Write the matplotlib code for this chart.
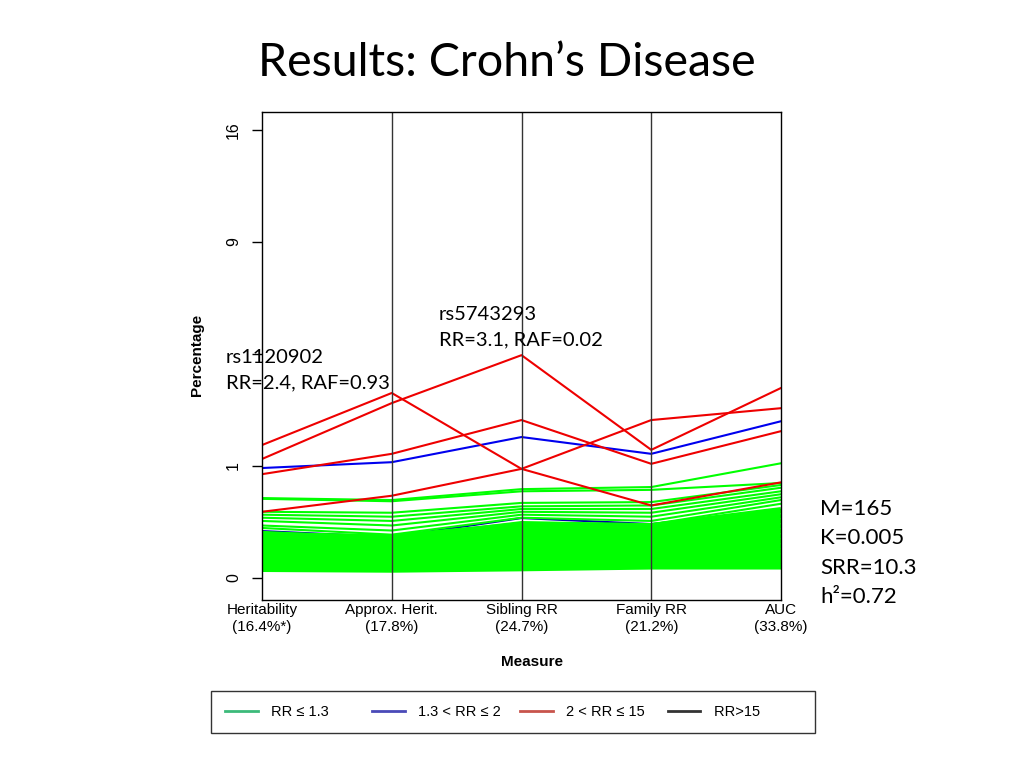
import numpy as np
from matplotlib import pyplot as plt
from matplotlib.lines import Line2D

measures = ["Heritability\n(16.4%*)", "Approx. Herit.\n(17.8%)", "Sibling RR\n(24.7%)",
            "Family RR\n(21.2%)", "AUC\n(33.8%)"]

# percentage per measure, one row per SNP
green_band = [
    [0.147, 0.134, 0.224, 0.216, 0.369],
    [0.128, 0.115, 0.191, 0.184, 0.316],
    [0.109, 0.098, 0.161, 0.154, 0.268],
    [0.092, 0.082, 0.134, 0.128, 0.224],
    [0.077, 0.067, 0.109, 0.103, 0.184],
    [0.0625, 0.054, 0.087, 0.082, 0.147],
    [0.050, 0.042, 0.067, 0.0625, 0.115],
    [0.039, 0.032, 0.050, 0.050, 0.087],
    [0.029, 0.023, 0.035, 0.039, 0.0625],
    [0.020, 0.016, 0.023, 0.029, 0.042],
    [0.0135, 0.0096, 0.0156, 0.020, 0.029],
    [0.009, 0.0075, 0.0105, 0.0145, 0.019],
    [0.0065, 0.0055, 0.0075, 0.0105, 0.0105],
]
green_top = [
    [0.51, 0.485, 0.63, 0.66, 1.05],
    [0.50, 0.47, 0.60, 0.62, 0.72],
    [0.35, 0.34, 0.45, 0.46, 0.69],
    [0.32, 0.30, 0.41, 0.42, 0.65],
    [0.29, 0.26, 0.38, 0.38, 0.60],
    [0.26, 0.22, 0.35, 0.34, 0.56],
    [0.22, 0.18, 0.32, 0.30, 0.52],
    [0.20, 0.15, 0.29, 0.26, 0.485],
    [0.17, 0.13, 0.25, 0.23, 0.44],
]
blue_low = [0.176, 0.134, 0.287, 0.232, 0.369]
blue_high = [0.965, 1.07, 1.585, 1.23, 1.96]
red_lines = [
    [1.41, 2.73, 0.95, 0.42, 0.73],   # rs1120902
    [1.13, 2.44, 3.96, 1.31, 2.88],   # rs5743293
    [0.86, 1.23, 1.99, 1.04, 1.72],
    [0.35, 0.54, 0.95, 1.99, 2.30],
]
ytick_vals = [0, 1, 4, 9, 16]
ytick_labels = ["0", "1", "", "9", "16"]

legend_labels = ["RR \u2264 1.3      ", "1.3 < RR \u2264 2", "2 < RR \u2264 15 ", "RR>15          "]
legend_colors = ["#3cba7a", "#4a4ab8", "#c8544c", "#333333"]

plt.rcParams['font.family'] = ['Liberation Sans', 'DejaVu Sans']

fig = plt.figure(figsize=(10.24, 7.68), dpi=100)
ax = fig.add_axes([262 / 1024, 1 - 600 / 768, 519 / 1024, 488 / 768])

x = np.arange(1, 6)
ax.plot(x, np.sqrt(blue_low), color="#0000aa", lw=1.5)
for row in green_band:
    ax.plot(x, np.sqrt(row), color="#00ff00", lw=4.3, solid_capstyle="butt")
for row in green_top:
    ax.plot(x, np.sqrt(row), color="#00ff00", lw=1.5)
ax.plot(x, np.sqrt(blue_high), color="#0000ee", lw=1.5)
for row in red_lines:
    ax.plot(x, np.sqrt(row), color="#ee0000", lw=1.5)

for xv in x[1:-1]:
    ax.axvline(xv, color="#333333", lw=1)

ax.set_xlim(1, 5)
ax.set_ylim(-0.196, 4.161)
ax.set_yticks(np.sqrt(ytick_vals), ytick_labels, rotation=90, va="center", fontsize=11.5)
ax.set_xticks(x, measures, fontsize=11, linespacing=1.3)
ax.tick_params(axis="x", length=0, pad=2)
ax.tick_params(axis="y", length=7, width=1, pad=8)
for sp in ax.spines.values():
    sp.set_color("black")
    sp.set_linewidth(1)

fig.text(197 / 1024, 1 - 355 / 768, "Percentage", rotation=90, fontsize=11,
         fontweight="bold", ha="center", va="center")
fig.text(532 / 1024, 1 - 662 / 768, "Measure", fontsize=11, fontweight="bold",
         ha="center", va="center")

fig.text(507 / 1024, 1 - 63 / 768, "Results: Crohn\u2019s Disease", family="Lato",
         fontsize=33.5, ha="center", va="center")
fig.text(439 / 1024, 1 - 327 / 768, "rs5743293\nRR=3.1, RAF=0.02", family="Lato",
         fontsize=14.5, ha="left", va="center", linespacing=1.6)
fig.text(226 / 1024, 1 - 370 / 768, "rs1120902\nRR=2.4, RAF=0.93", family="Lato",
         fontsize=14.5, ha="left", va="center", linespacing=1.6)
fig.text(820 / 1024, 1 - 553 / 768, "M=165\nK=0.005\nSRR=10.3\nh\u00b2=0.72", family="Lato",
         fontsize=16, ha="left", va="center", linespacing=1.6)

handles = [Line2D([], [], color=c, lw=2) for c in legend_colors]
leg = fig.legend(handles, legend_labels, ncol=4, loc="upper left",
                 bbox_to_anchor=(211 / 1024, 1 - 691 / 768),
                 fontsize=10.5, frameon=True, fancybox=False, handlelength=2.25,
                 handletextpad=0.9, columnspacing=1.3, borderaxespad=0, borderpad=0.95)
leg.get_frame().set_edgecolor("black")
leg.get_frame().set_linewidth(1)

fig.savefig("out.png", dpi=100)
